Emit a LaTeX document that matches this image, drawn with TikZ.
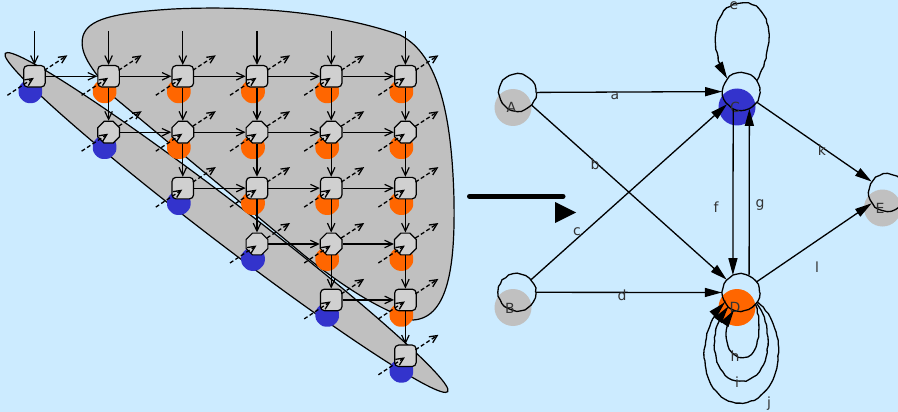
\documentclass[tikz,border=0pt]{standalone}
\usepackage{fontspec}
\setmainfont{DejaVu Sans}
\usetikzlibrary{arrows.meta,shapes.geometric,calc,decorations.pathmorphing}
\definecolor{bgc}{HTML}{CCEBFF}
\definecolor{regc}{HTML}{C0C0C0}
\definecolor{nodec}{HTML}{D0D0D0}
\definecolor{bluec}{HTML}{3333CC}
\definecolor{orc}{HTML}{FF6600}
\definecolor{txtc}{HTML}{333333}
\tikzset{
 gn/.style={draw=black, line width=1.2pt, fill=nodec, inner sep=0pt},
 gsq/.style={gn, rectangle, rounded corners=4pt, minimum size=21.5pt},
 goct/.style={gn, regular polygon, regular polygon sides=8, minimum size=23.5pt},
 blob/.style={regular polygon, regular polygon sides=8, minimum size=25.5pt, rounded corners=3pt, inner sep=0pt, draw=none},
 garrow/.style={line width=1.2pt, -{Straight Barb[length=8pt,width=7.5pt]}},
 gdash/.style={line width=1.3pt, dash pattern=on 4pt off 2.5pt, -{Straight Barb[length=7.5pt,width=7pt]}},
 wob/.style={decorate, decoration={random steps, segment length=4pt, amplitude=0.55pt}},
 rn/.style={circle, draw=black, line width=1.3pt, minimum size=37pt, inner sep=0pt, wob},
 rblob/.style={circle, minimum size=37pt, inner sep=0pt, draw=none},
 rarrow/.style={line width=1.3pt, -{Triangle[length=17pt,width=9pt]}},
 lbl/.style={text=txtc, font=\fontsize{14}{14}\selectfont, inner sep=0pt},
}
\begin{document}
\begin{tikzpicture}[x=1pt,y=-1pt]
\pgfmathsetseed{7}
\useasboundingbox (0,0) rectangle (898,412);
\fill[bgc] (0,0) rectangle (898,412);
% big region
\fill[regc] (413,320) .. controls (385,312) and (350,292) .. (305,256) -- (115,98)
  .. controls (95,72) and (78,55) .. (83,36) .. controls (88,20) and (110,13) .. (173,9)
  .. controls (260,5) and (340,14) .. (400,35) .. controls (440,55) and (452,120) .. (454,200)
  .. controls (455,260) and (450,318) .. (413,320) -- cycle;
% diagonal ellipse
\fill[regc, rotate around={-37.4:(226.5,222.5)}] (226.5,222.5) ellipse [x radius=278.5, y radius=20.5];
\draw[line width=1.2pt, rotate around={-37.4:(226.5,222.5)}] (226.5,222.5) ellipse [x radius=278.5, y radius=20.5];
\draw[line width=1.2pt] (413,320) .. controls (385,312) and (350,292) .. (305,256) -- (115,98)
  .. controls (95,72) and (78,55) .. (83,36) .. controls (88,20) and (110,13) .. (173,9)
  .. controls (260,5) and (340,14) .. (400,35) .. controls (440,55) and (452,120) .. (454,200)
  .. controls (455,260) and (450,318) .. (413,320) -- cycle;
% grid nodes
\foreach \i in {1,...,6}{
 \foreach \j in {\i,...,6}{
   \pgfmathsetmacro{\xx}{34.4+74.2*(\j-1)}
   \pgfmathsetmacro{\yy}{76.3+55.9*(\i-1)}
   \ifnum\i=\j \def\bc{bluec}\else\def\bc{orc}\fi
   \def\shp{gsq}
   \ifnum\i=2 \def\shp{goct}\fi
   \ifnum\i=4 \def\shp{goct}\fi
   \node[blob, fill=\bc] (b-\i-\j) at ({\xx-4},{\yy+15}) {};
   \node[\shp] (n-\i-\j) at (\xx,\yy) {};
 }
}
% top inputs
\foreach \j in {1,...,6}{
  \pgfmathsetmacro{\xx}{34.4+74.2*(\j-1)}
  \coordinate (t-\j) at (\xx,31);
  \draw[garrow] (t-\j) -- (n-1-\j);
}
% horizontal
\foreach \i in {1,...,5}{
  \foreach \j in {\i,...,5}{
    \pgfmathtruncatemacro{\jn}{\j+1}
    \draw[garrow] (n-\i-\j) -- (n-\i-\jn);
  }
}
% vertical
\foreach \i in {1,...,5}{
  \pgfmathtruncatemacro{\ii}{\i+1}
  \foreach \j in {\ii,...,6}{
    \draw[garrow] (n-\i-\j) -- (n-\ii-\j);
  }
}
% dashed stubs
\foreach \i in {1,...,6}{
 \foreach \j in {\i,...,6}{
   \draw[gdash] ($(n-\i-\j.center)+(-27,19)$) -- ($(n-\i-\j.center)+(-0.5,1.5)$);
   \draw[gdash] ($(n-\i-\j.center)+(10,-6)$) -- ($(n-\i-\j.center)+(33,-21)$);
 }
}
% middle arrow
\coordinate (m1) at (469.5,196.3);
\coordinate (m2) at (563,196.3);
\draw[line width=5pt, line cap=round] (m1) -- (m2);
\fill (555,202) -- (555,223) -- (576,212.5) -- cycle;
% right graph blobs
\node[rblob, fill=regc] (gA) at (513,107.5) {};
\node[rblob, fill=regc] (gB) at (513,307.5) {};
\node[rblob, fill=bluec] (gC) at (737,107) {};
\node[rblob, fill=orc] (gD) at (737,307.5) {};
\node[rblob, fill=regc] (gE) at (882.5,208) {};
% right graph nodes
\node[rn] (A) at (517.5,92.5) {};
\node[rn] (B) at (517,292.3) {};
\node[rn] (C) at (741.3,91.5) {};
\node[rn] (D) at (741,292.5) {};
\node[rn] (E) at (887.5,192.5) {};
\node[lbl] (lA) at (511.5,107.5) {A};
\node[lbl] (lB) at (510,308) {B};
\node[lbl] (lC) at (735,107) {C};
\node[lbl] (lD) at (735,307) {D};
\node[lbl] (lE) at (880,208) {E};
% edges
\draw[rarrow] (A) -- (C);
\draw[rarrow] (A) -- (D);
\draw[rarrow] (B) -- (C);
\draw[rarrow] (B) -- (D);
\draw[rarrow] (C.-115) -- (D.115);
\draw[rarrow] (D.65) -- (C.-65);
\draw[rarrow] (C) -- (E);
\draw[rarrow] (D) -- (E);
% loops
\draw[rarrow, wob] (C.35) .. controls (778,40) and (770,2) .. (742,3) .. controls (712,4) and (708,50) .. (C.137);
\draw[rarrow, wob] (D.-40) .. controls (762,325) and (760,357) .. (743,357) .. controls (726,357) and (720,332) .. (D.-111);
\draw[rarrow, wob] (D.-35) .. controls (776,330) and (770,382) .. (740,381) .. controls (714,380) and (704,335) .. (D.-132);
\draw[rarrow, wob] (D.-30) .. controls (792,330) and (782,403) .. (740,403) .. controls (703,403) and (690,340) .. (D.-148);
% edge labels
\node[lbl] (la) at (615,95.5) {a};
\node[lbl] (lb) at (595,164) {b};
\node[lbl] (lc) at (577,232) {c};
\node[lbl] (ld) at (622,295) {d};
\node[lbl] (lf) at (716,207) {f};
\node[lbl] (lg) at (760,205) {g};
\node[lbl] (lk) at (822,150) {k};
\node[lbl] (ll) at (817,267) {l};
\node[lbl] (le) at (734,5.5) {e};
\node[lbl] (lh) at (735,356) {h};
\node[lbl] (li) at (737,382) {i};
\node[lbl] (lj) at (769,404) {j};
\end{tikzpicture}
\end{document}
